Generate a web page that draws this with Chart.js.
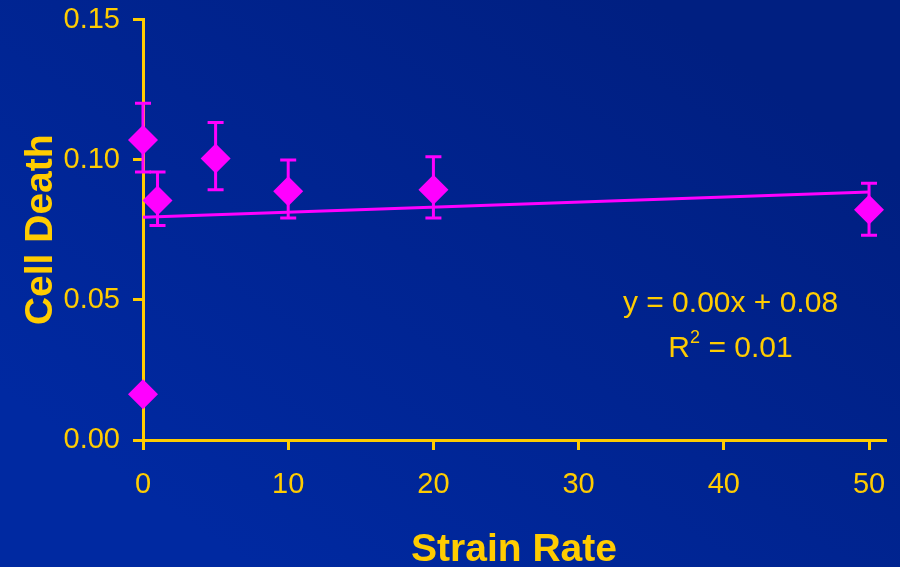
<!DOCTYPE html>
<html>
<head>
<meta charset="utf-8">
<script src="https://cdn.jsdelivr.net/npm/chart.js@4"></script>
<style>
  html, body { margin: 0; padding: 0; background: #00248f; }
  #wrap { width: 900px; height: 567px; }
</style>
</head>
<body>
<div id="wrap"><canvas id="chart" width="900" height="567"></canvas></div>
<script>
// Strain rate (x) and mean cell death (y) per group
const strainRate = [0, 0, 1, 5, 10, 20, 50];
const cellDeath  = [0.1070, 0.0163, 0.0854, 0.1004, 0.0887, 0.0893, 0.0821];
// Error bar ends (null = no bar drawn)
const errHigh    = [0.1201, null, 0.0956, 0.1133, 0.0999, 0.1010, 0.0916];
const errLow     = [0.0956, null, 0.0765, 0.0893, 0.0792, 0.0792, 0.0730];
// Linear trendline end points
const trendX     = [0, 50];
const trendY     = [0.0795, 0.0885];
// Axis ticks
const xTicks     = [0, 10, 20, 30, 40, 50];
const yTicks     = [0, 0.05, 0.10, 0.15];
// Fit annotation
const fitEquation = 'y = 0.00x + 0.08';
const fitR2Value  = ' = 0.01';

const GOLD = '#FFCC00';
const MAGENTA = '#FF00FF';
const FONT = "'Liberation Sans', Arial, Helvetica, sans-serif";

const background = {
  id: 'background',
  beforeDraw(chart) {
    const { ctx, width, height } = chart;
    const g = ctx.createLinearGradient(650, 0, 250, height);
    g.addColorStop(0, '#001f81');
    g.addColorStop(1, '#0029a1');
    ctx.save();
    ctx.fillStyle = g;
    ctx.fillRect(0, 0, width, height);
    ctx.restore();
  }
};

const errorBars = {
  id: 'errorBars',
  afterDatasetsDraw(chart) {
    const { ctx, scales: { x, y } } = chart;
    ctx.save();
    ctx.strokeStyle = MAGENTA;
    ctx.lineWidth = 3;
    const cap = 8;
    strainRate.forEach((sx, i) => {
      if (errHigh[i] == null) return;
      const px = x.getPixelForValue(sx);
      const top = y.getPixelForValue(errHigh[i]);
      const bot = y.getPixelForValue(errLow[i]);
      ctx.beginPath();
      ctx.moveTo(px, top); ctx.lineTo(px, bot);
      ctx.moveTo(px - cap, top); ctx.lineTo(px + cap, top);
      ctx.moveTo(px - cap, bot); ctx.lineTo(px + cap, bot);
      ctx.stroke();
    });
    ctx.restore();
  }
};

const annotations = {
  id: 'annotations',
  afterDraw(chart) {
    const { ctx, chartArea } = chart;
    ctx.save();
    ctx.fillStyle = GOLD;
    ctx.textBaseline = 'alphabetic';

    // Fit equation
    ctx.font = `30px ${FONT}`;
    ctx.textAlign = 'center';
    ctx.fillText(fitEquation, 730.5, 312);

    // R² line, centred under the equation
    ctx.textAlign = 'left';
    const wR = ctx.measureText('R').width;
    const wRest = ctx.measureText(fitR2Value).width;
    ctx.font = `18px ${FONT}`;
    const wSup = ctx.measureText('2').width;
    const total = wR + wSup + wRest;
    const sx = 730.5 - total / 2;
    ctx.font = `30px ${FONT}`;
    ctx.fillText('R', sx, 357);
    ctx.font = `18px ${FONT}`;
    ctx.fillText('2', sx + wR, 343);
    ctx.font = `30px ${FONT}`;
    ctx.fillText(fitR2Value, sx + wR + wSup, 357);

    // Axis titles
    ctx.font = `bold 39px ${FONT}`;
    ctx.textAlign = 'center';
    ctx.fillText('Strain Rate', (chartArea.left + chartArea.right) / 2, 561);

    ctx.translate(52, (chartArea.top + chartArea.bottom) / 2);
    ctx.rotate(-Math.PI / 2);
    ctx.fillText('Cell Death', 0, 0);
    ctx.restore();
  }
};

const axisCommon = {
  grid: { drawOnChartArea: false, color: GOLD, lineWidth: 3, tickLength: 10 },
  border: { color: GOLD, width: 3 },
};

new Chart(document.getElementById('chart'), {
  type: 'scatter',
  data: {
    datasets: [
      {
        type: 'line',
        label: 'Linear fit',
        data: trendX.map((v, i) => ({ x: v, y: trendY[i] })),
        borderColor: MAGENTA,
        borderWidth: 3,
        pointRadius: 0,
        fill: false,
        clip: false
      },
      {
        label: 'Cell Death',
        data: strainRate.map((v, i) => ({ x: v, y: cellDeath[i] })),
        pointStyle: 'rectRot',
        pointRadius: 15,
        pointHoverRadius: 15,
        backgroundColor: MAGENTA,
        borderColor: MAGENTA,
        borderWidth: 0,
        clip: false
      }
    ]
  },
  options: {
    responsive: false,
    animation: false,
    events: [],
    layout: { padding: { left: 0, right: 13.3, top: 19.5, bottom: 0 } },
    plugins: { legend: { display: false }, tooltip: { enabled: false } },
    scales: {
      x: {
        type: 'linear',
        min: 0,
        max: 51.1,
        ...axisCommon,
        afterBuildTicks: (axis) => { axis.ticks = xTicks.map(v => ({ value: v })); },
        afterFit: (axis) => {
          axis.height = 127;
          axis.paddingLeft = 0; axis.paddingRight = 0;
        },
        ticks: {
          color: GOLD,
          font: { family: FONT, size: 29 },
          padding: 18,
          maxRotation: 0,
          callback: (v) => String(v)
        }
      },
      y: {
        type: 'linear',
        min: 0,
        max: 0.15,
        ...axisCommon,
        afterBuildTicks: (axis) => { axis.ticks = yTicks.map(v => ({ value: v })); },
        afterFit: (axis) => {
          axis.width = 143;
          axis.paddingTop = 0; axis.paddingBottom = 0;
        },
        ticks: {
          color: GOLD,
          font: { family: FONT, size: 29 },
          padding: 13,
          callback: (v) => Number(v).toFixed(2)
        }
      }
    }
  },
  plugins: [background, errorBars, annotations]
});
</script>
</body>
</html>
